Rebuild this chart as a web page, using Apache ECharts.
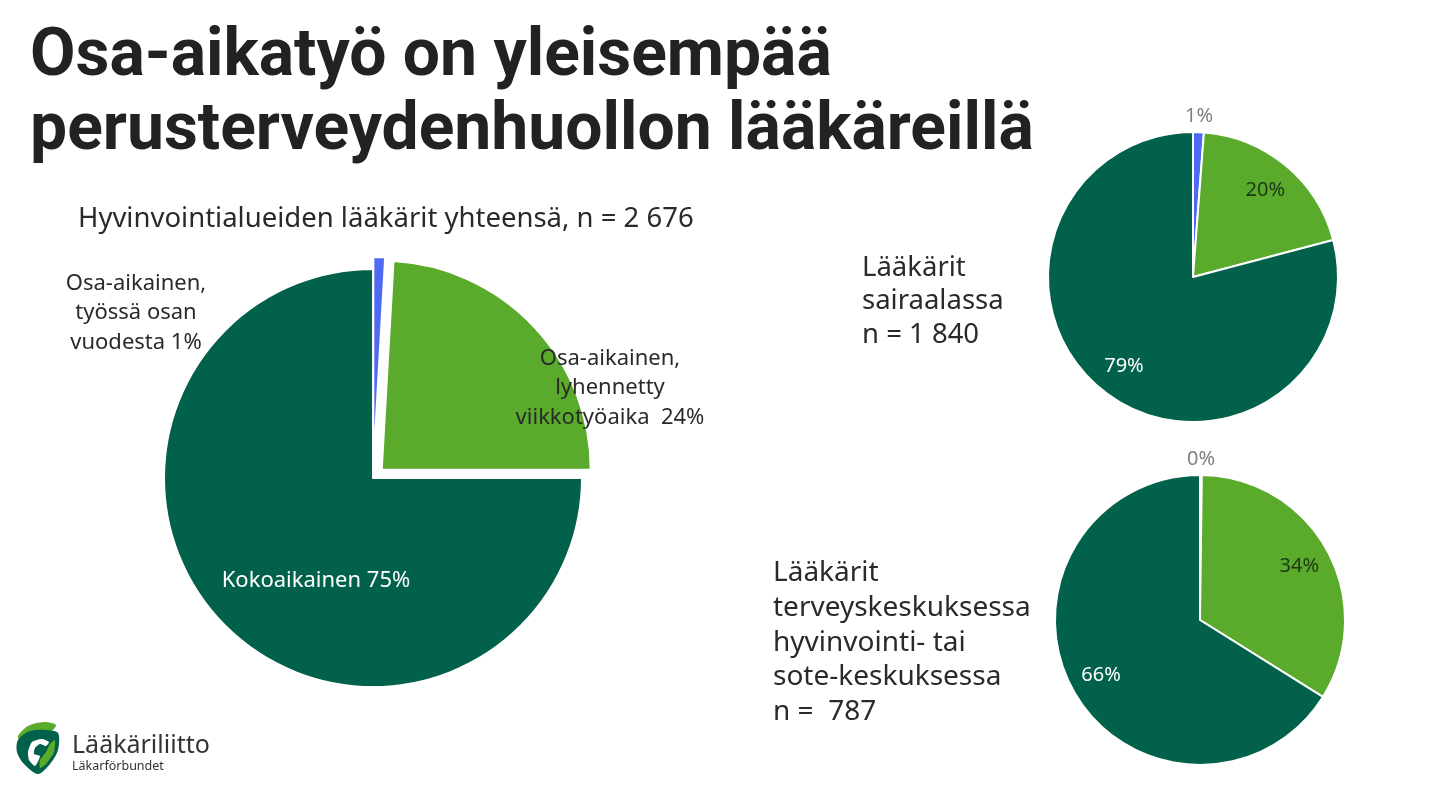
<!DOCTYPE html>
<html>
<head>
<meta charset="utf-8">
<script src="https://cdn.jsdelivr.net/npm/echarts@6/dist/echarts.min.js"></script>
<style>
html,body{margin:0;padding:0;background:#fff;}
#chart{width:1440px;height:787px;}
</style>
</head>
<body>
<div id="chart"></div>
<script>
// ---- Data ----
const titleLines = ['Osa-aikatyö on yleisempää', 'perusterveydenhuollon lääkäreillä'];
const mainTitle = 'Hyvinvointialueiden lääkärit yhteensä, n = 2 676';
const categories = ['Osa-aikainen, työssä osan vuodesta', 'Osa-aikainen, lyhennetty viikkotyöaika', 'Kokoaikainen'];
const mainLabelNames = ['Osa-aikainen,\ntyössä osan\nvuodesta', 'Osa-aikainen,\nlyhennetty\nviikkotyöaika ', 'Kokoaikainen'];
const mainValues = [0.9, 24.1, 75.0];
const hospitalValues = [1.2, 19.7, 79.1];
const healthCentreValues = [0.2, 33.7, 66.1];
const hospitalText = ['Lääkärit', 'sairaalassa', 'n = 1 840'];
const healthCentreText = ['Lääkärit', 'terveyskeskuksessa', 'hyvinvointi- tai', 'sote-keskuksessa', 'n =  787'];

// ---- Style ----
const colors = ['#4f6af2', '#5aaa2b', '#02614b'];
const FONT = '"Noto Sans", "Open Sans", sans-serif';
const textColor = '#2a2a2a';

const chart = echarts.init(document.getElementById('chart'), null, {renderer: 'canvas'});

function pct(v) { return Math.round(v) + '%'; }

function midPos(values, idx, cx, cy, r, frac) {
  const sum = values.reduce((a, b) => a + b, 0);
  let cum = 0;
  for (let i = 0; i < idx; i++) cum += values[i];
  const a = (cum + values[idx] / 2) / sum * Math.PI * 2;
  return [cx + frac * r * Math.sin(a), cy - frac * r * Math.cos(a)];
}

const main = {cx: 373, cy: 478, r: 209};
const hosp = {cx: 1193, cy: 277, r: 145};
const hc = {cx: 1200, cy: 620, r: 145};
const mainAnchors = [[136, 313], [610, 388], [316, 581]];
const mainLabelColors = [textColor, textColor, '#ffffff'];
const smallLabelColors = ['#808080', '#1f3a17', '#ffffff'];
const smallFrac = [1.11, 0.78, 0.78];

function smallSeries(values, geo) {
  return {
    type: 'pie',
    center: [geo.cx, geo.cy],
    radius: geo.r,
    startAngle: 90,
    clockwise: true,
    silent: true,
    itemStyle: {borderColor: '#ffffff', borderWidth: 2},
    label: {show: true, position: 'inside', fontFamily: FONT, fontSize: 20,
      formatter: p => pct(p.value)},
    labelLine: {show: false},
    labelLayout: p => {
      const pos = midPos(values, p.dataIndex, geo.cx, geo.cy, geo.r, smallFrac[p.dataIndex]);
      return {x: pos[0], y: pos[1], align: 'center', verticalAlign: 'middle'};
    },
    data: values.map((v, i) => ({
      name: categories[i], value: v,
      itemStyle: {color: colors[i]},
      label: {color: smallLabelColors[i]}
    }))
  };
}

const graphics = [];
titleLines.forEach((t, i) => {
  graphics.push({type: 'text', x: 30, y: 25 + i * 74,
    style: {text: t, font: 'bold 66px Roboto, "Noto Sans", sans-serif', fill: '#222222'}});
});
graphics.push({type: 'text', x: 78, y: 219,
  style: {text: mainTitle, font: '27.5px ' + FONT, fill: textColor, verticalAlign: 'middle'}});
hospitalText.forEach((t, i) => {
  graphics.push({type: 'text', x: 862, y: 268 + i * 33.5,
    style: {text: t, font: '27.5px ' + FONT, fill: textColor, verticalAlign: 'middle'}});
});
healthCentreText.forEach((t, i) => {
  graphics.push({type: 'text', x: 773, y: 573 + i * 34.8,
    style: {text: t, font: '28px ' + FONT, fill: textColor, verticalAlign: 'middle'}});
});
// Main pie labels, text built from the data
mainValues.forEach((v, i) => {
  graphics.push({type: 'text', x: mainAnchors[i][0], y: mainAnchors[i][1], z: 10,
    style: {text: mainLabelNames[i] + ' ' + pct(v), font: '22px ' + FONT, fill: mainLabelColors[i],
      align: 'center', verticalAlign: 'middle', lineHeight: 29.5}});
});
// Logo (simple shapes)
graphics.push({type: 'polygon', shape: {points: [[18, 736], [28, 726], [44, 722], [56, 725], [50, 732], [38, 730], [26, 734], [20, 741]], smooth: 0.3}, style: {fill: '#5aaa2b'}});
graphics.push({type: 'polygon', shape: {points: [[18, 740], [30, 731], [46, 730], [58, 733], [58, 750], [50, 764], [38, 774], [24, 764], [17, 752]], smooth: 0.3}, style: {fill: '#02614b'}});
graphics.push({type: 'polygon', shape: {points: [[28, 752], [32, 742], [42, 739], [49, 742], [46, 746], [40, 744], [35, 748], [34, 754], [40, 756], [35, 766], [29, 760]], smooth: 0.2}, style: {fill: '#ffffff'}});
graphics.push({type: 'polygon', shape: {points: [[40, 760], [46, 752], [50, 744], [55, 740], [54, 752], [46, 764], [40, 768]], smooth: 0.2}, style: {fill: '#5aaa2b'}});
graphics.push({type: 'text', x: 72, y: 746,
  style: {text: 'Lääkäriliitto', font: '25px ' + FONT, fill: '#333333', verticalAlign: 'middle'}});
graphics.push({type: 'text', x: 72, y: 766,
  style: {text: 'Läkarförbundet', font: '12.5px ' + FONT, fill: '#333333', verticalAlign: 'middle'}});

const option = {
  animation: false,
  backgroundColor: '#ffffff',
  graphic: {elements: graphics},
  series: [
    {
      type: 'pie',
      center: [main.cx, main.cy],
      radius: main.r,
      startAngle: 90,
      clockwise: true,
      silent: true,
      selectedMode: 'multiple',
      selectedOffset: 12,
      itemStyle: {borderColor: '#ffffff', borderWidth: 2},
      label: {show: false},
      labelLine: {show: false},
      data: mainValues.map((v, i) => ({
        name: categories[i], value: v, selected: i < 2,
        itemStyle: {color: colors[i]}
      }))
    },
    smallSeries(hospitalValues, hosp),
    smallSeries(healthCentreValues, hc)
  ]
};
chart.setOption(option);
</script>
</body>
</html>
